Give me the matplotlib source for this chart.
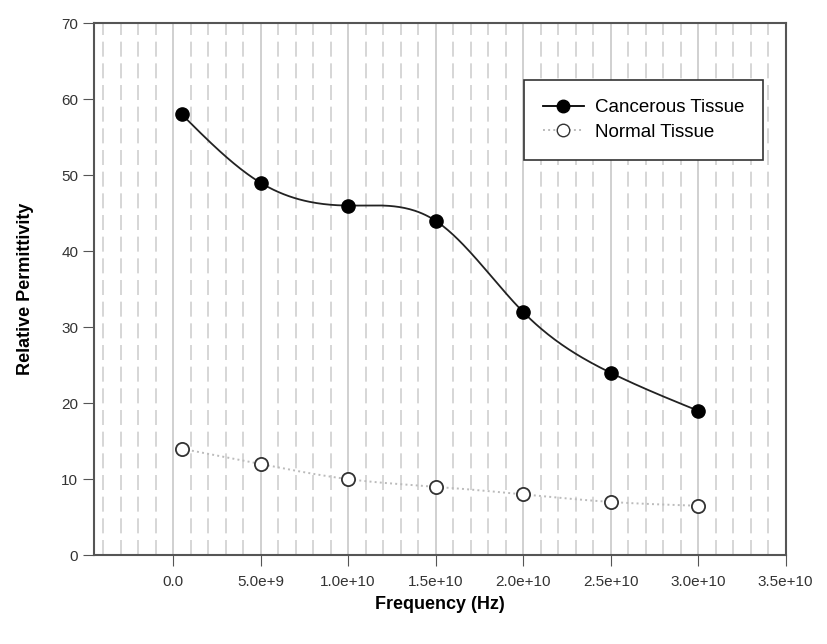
import numpy as np
import matplotlib.pyplot as plt
from matplotlib.ticker import MultipleLocator

freq = [5e8, 5e9, 1e10, 1.5e10, 2e10, 2.5e10, 3e10]
cancerous = [58, 49, 46, 44, 32, 24, 19]
normal = [14, 12, 10, 9, 8, 7, 6.5]
xticks = [0, 5e9, 1e10, 1.5e10, 2e10, 2.5e10, 3e10, 3.5e10]
xtick_labels = ['0.0', '5.0e+9', '1.0e+10', '1.5e+10', '2.0e+10', '2.5e+10', '3.0e+10', '3.5e+10']


def natural_spline(x, y, n=300):
	# natural cubic spline, only used to draw the smooth connecting line
	x = np.asarray(x, float)
	y = np.asarray(y, float)
	k = len(x)
	h = np.diff(x)
	A = np.zeros((k, k))
	r = np.zeros(k)
	A[0, 0] = A[-1, -1] = 1
	for i in range(1, k-1):
		A[i, i-1] = h[i-1]
		A[i, i] = 2*(h[i-1]+h[i])
		A[i, i+1] = h[i]
		r[i] = 6*((y[i+1]-y[i])/h[i]-(y[i]-y[i-1])/h[i-1])
	m = np.linalg.solve(A, r)
	xs = np.linspace(x[0], x[-1], n)
	idx = np.clip(np.searchsorted(x, xs)-1, 0, k-2)
	t0 = x[idx]
	t1 = x[idx+1]
	hh = t1-t0
	ys = (m[idx]*(t1-xs)**3/(6*hh) + m[idx+1]*(xs-t0)**3/(6*hh)
		  + (y[idx]/hh - m[idx]*hh/6)*(t1-xs) + (y[idx+1]/hh - m[idx+1]*hh/6)*(xs-t0))
	return xs, ys


plt.rcParams['font.family'] = ['Liberation Sans', 'DejaVu Sans']

fig = plt.figure(figsize=(8.27, 6.44), dpi=100)
ax = fig.add_axes([0.114, 0.138, 0.836, 0.826])

ax.xaxis.set_minor_locator(MultipleLocator(1e9))
ax.grid(True, axis='x', which='minor', color='#d0d0d0', linestyle=(0, (9, 4)), linewidth=1.2)
ax.grid(True, axis='x', which='major', color='#c8c8c8', linestyle='-', linewidth=1.2)
ax.set_axisbelow(True)

xs, ys = natural_spline(freq, cancerous)
ax.plot(xs, ys, color='#222222', lw=1.3, zorder=3)
ax.plot(freq, cancerous, 'o', color='black', ms=9.5, zorder=4)
xs2, ys2 = natural_spline(freq, normal)
ax.plot(xs2, ys2, color='#bbbbbb', lw=1.4, linestyle=':', zorder=3)
ax.plot(freq, normal, 'o', mfc='white', mec='#333333', mew=1.3, ms=9.5, zorder=4)

# legend proxies
ax.plot([], [], '-o', color='black', ms=9, lw=1.3, label='Cancerous Tissue')
ax.plot([], [], ':o', color='#bbbbbb', mfc='white', mec='#333333', ms=9, lw=1.4, label='Normal Tissue')
h, l = ax.get_legend_handles_labels()
leg = ax.legend(h[-2:], l[-2:], loc='upper right', bbox_to_anchor=(0.981, 0.91),
				fancybox=False, framealpha=1, edgecolor='#333333', fontsize=13.5,
				borderpad=1.0, labelspacing=0.4, handlelength=2.2, handletextpad=0.6)
leg.get_frame().set_linewidth(1.2)

ax.set_xlim(-4.5e9, 3.5e10)
ax.set_ylim(0, 70)
ax.set_xticks(xticks)
ax.set_xticklabels(xtick_labels)
ax.yaxis.set_major_locator(MultipleLocator(10))
ax.tick_params(axis='both', which='major', direction='out', length=8, labelsize=11,
			   color='#555555', labelcolor='#333333')
ax.tick_params(axis='x', which='minor', length=0)
ax.tick_params(axis='x', pad=6)
for s in ax.spines.values():
	s.set_color('#555555')
	s.set_linewidth(1.5)

ax.set_xlabel('Frequency (Hz)', fontsize=13, fontweight='bold', labelpad=5)
ax.set_ylabel('Relative Permittivity', fontsize=13, fontweight='bold', labelpad=20)

fig.savefig('out.png', dpi=100)
